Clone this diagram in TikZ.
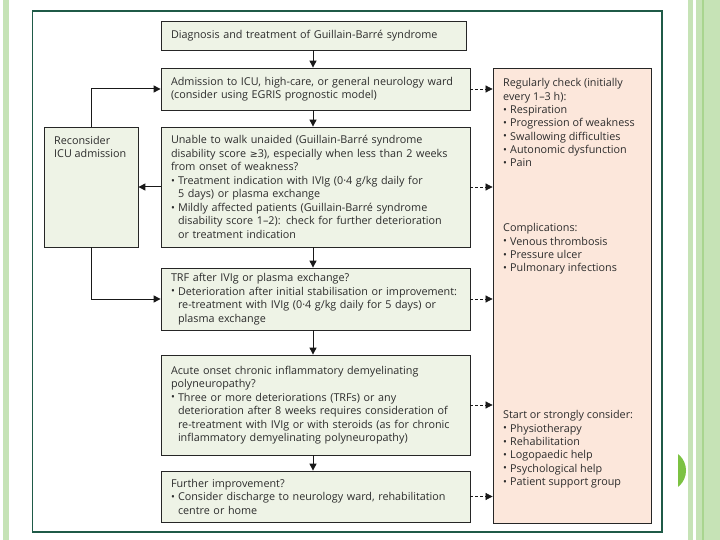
\documentclass[tikz,border=0pt]{standalone}
\usepackage{fontspec}
\usepackage{graphicx}
\setmainfont{Open Sans}
\newfontfamily\symfont{DejaVu Sans}
\usetikzlibrary{arrows.meta,calc}
\definecolor{gfill}{HTML}{EEF3E6}
\definecolor{pfill}{HTML}{FCE7DB}
\definecolor{framegreen}{HTML}{1F5A47}
\definecolor{stripe}{HTML}{C6E3B6}
\definecolor{stripedark}{HTML}{A9D58F}
\definecolor{txt}{HTML}{2C2C2C}
\definecolor{dotgreen}{HTML}{7CC242}
\newcommand\boxfont{\fontsize{10.8}{13.5}\selectfont}
\newcommand\pinkfont{\fontsize{10.8}{13.3}\selectfont}
\newcommand\bul{\makebox[7pt][l]{\raisebox{0.05ex}{\scalebox{0.95}{\textbullet}}}}
\newcommand\ind{\hspace*{7pt}}
\begin{document}
\begin{tikzpicture}[x=1pt,y=-1pt,
  gbox/.style={draw=black!85, fill=gfill, line width=0.8pt, inner xsep=10pt, inner ysep=0pt,
    align=left, text=txt, font=\boxfont, text width=289pt},
  pbox/.style={draw=black!85, fill=pfill, line width=0.8pt, minimum width=158pt, inner sep=0pt},
  ptext/.style={anchor=north west, inner sep=0pt, align=left, text=txt, font=\pinkfont},
  arr/.style={line width=1pt, draw=black!90, -{Triangle[length=7pt,width=7pt]}},
  darr/.style={line width=0.7pt, draw=black!90, dash pattern=on 3pt off 2pt, -{Triangle[length=7pt,width=7pt]}}
]
\useasboundingbox (0,0) rectangle (720,540);
\fill[white] (0,0) rectangle (720,540);
% slide decoration
\fill[stripe] (3,0) rectangle (8.5,540);
\fill[stripe] (688,0) rectangle (692.5,540);
\fill[stripe] (696,0) rectangle (720,540);
\fill[stripedark] (702,0) rectangle (703.5,540);
\begin{scope}
  \clip (678,440) rectangle (688,500);
  \fill[dotgreen] (665,470.5) circle (21);
\end{scope}
\draw[framegreen, line width=1.2pt] (32.5,11) rectangle (662,532);

\coordinate (axis) at (313,0);

\node[gbox, text width=285pt, minimum height=29pt] (title) at (313.5,35.5)
  {Diagnosis and treatment of Guillain-Barré syndrome};
\node[gbox, minimum height=42pt] (adm) at (315.5,89)
  {Admission to ICU, high-care, or general neurology ward\\(consider using EGRIS prognostic model)};
\node[gbox, minimum height=120pt] (unable) at (315.5,187)
  {Unable to walk unaided (Guillain-Barré syndrome\\
   disability score {\symfont\fontsize{9.5}{13.5}\selectfont ≥}3), especially when less than 2 weeks\\
   from onset of weakness?\\
   \bul Treatment indication with IVIg (0·4 g/kg daily for\\
   \ind 5 days) or plasma exchange\\
   \bul Mildly affected patients (Guillain-Barré syndrome\\
   \ind \mbox{disability score 1–2): check for further deterioration}\\
   \ind or treatment indication};
\node[gbox, minimum height=62pt] (trf) at (315.5,299)
  {TRF after IVIg or plasma exchange?\\
   \bul \mbox{Deterioration after initial stabilisation or improvement:}\\
   \ind re-treatment with IVIg (0·4 g/kg daily for 5 days) or\\
   \ind plasma exchange};
\node[gbox, minimum height=100pt] (acute) at (315.5,405)
  {Acute onset chronic inflammatory demyelinating\\
   polyneuropathy?\\
   \bul Three or more deteriorations (TRFs) or any\\
   \ind \mbox{deterioration after 8 weeks requires consideration of}\\
   \ind \mbox{re-treatment with IVIg or with steroids (as for chronic}\\
   \ind inflammatory demyelinating polyneuropathy)};
\node[gbox, minimum height=51pt] (further) at (315.5,496.5)
  {Further improvement?\\
   \bul \mbox{Consider discharge to neurology ward, rehabilitation}\\
   \ind centre or home};

\node[draw=black!85, fill=gfill, line width=0.8pt, minimum width=94pt, minimum height=120pt, inner sep=0pt] (recon) at (91,187) {};
\node[ptext, font=\boxfont] (recontext) at (54,136) {Reconsider\\ICU admission};

\node[pbox, minimum height=455pt] (pink) at (572,295.5) {};
\node[ptext] (pinkA) at (503,78.5) {Regularly check (initially\\every 1–3 h):\\\bul Respiration\\\bul Progression of weakness\\\bul Swallowing difficulties\\\bul Autonomic dysfunction\\\bul Pain};
\node[ptext] (pinkB) at (503,223.5) {Complications:\\\bul Venous thrombosis\\\bul Pressure ulcer\\\bul Pulmonary infections};
\node[ptext] (pinkC) at (503,410.5) {Start or strongly consider:\\\bul Physiotherapy\\\bul Rehabilitation\\\bul Logopaedic help\\\bul Psychological help\\\bul Patient support group};

% main flow
\draw[arr] (title.south -| axis) -- (adm.north -| axis);
\draw[arr] (adm.south -| axis) -- (unable.north -| axis);
\draw[arr] (unable.south -| axis) -- (trf.north -| axis);
\draw[arr] (trf.south -| axis) -- (acute.north -| axis);
\draw[arr] (acute.south -| axis) -- (further.north -| axis);
% reconsider loop
\draw[arr] (unable.west) -- (recon.east);
\draw[arr] (recon.north) |- (adm.west);
\draw[arr] (recon.south) |- (trf.west);
% dashed to side box
\draw[darr] (adm.east) -- (adm.east -| pink.west);
\draw[darr] (unable.east) -- (unable.east -| pink.west);
\draw[darr] (trf.east) -- (trf.east -| pink.west);
\draw[darr] (acute.east) -- (acute.east -| pink.west);
\draw[darr] (further.east) -- (further.east -| pink.west);
\end{tikzpicture}
\end{document}
